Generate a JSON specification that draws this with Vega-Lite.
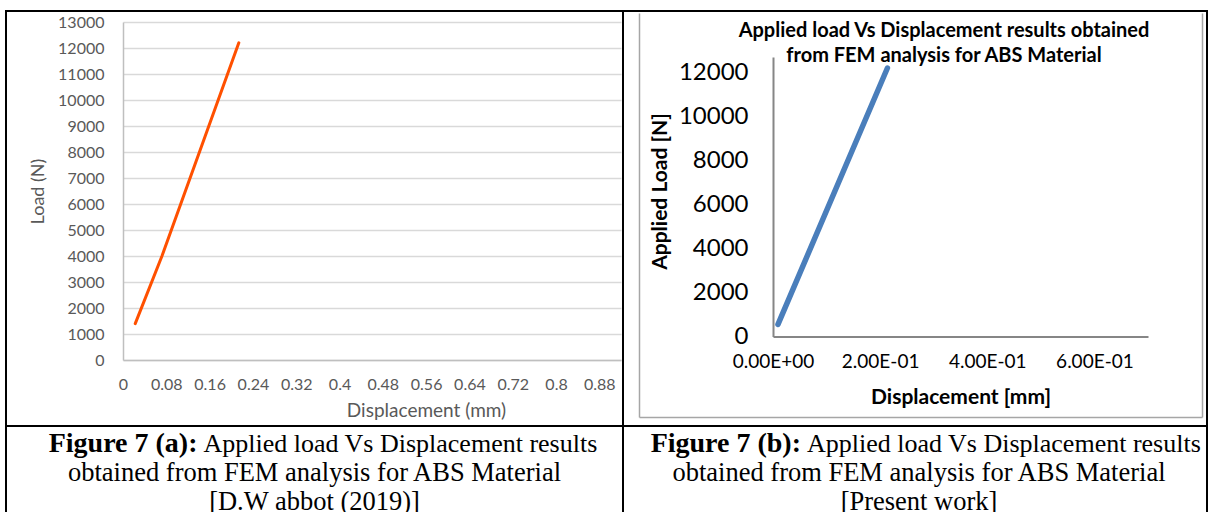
{
  "$schema": "https://vega.github.io/schema/vega-lite/v6.json",
  "background": "white",
  "padding": {"left": 5, "top": 10, "right": 0, "bottom": 0},
  "columns": 2,
  "spacing": {"row": 0, "column": 0},
  "bounds": "flush",
  "config": {
    "font": "Lato",
    "view": {"stroke": null},
    "axis": {"labelFont": "Lato", "titleFont": "Lato", "labelOverlap": false, "labelFlush": false, "labelBound": false},
    "title": {"font": "Lato"}
  },
  "concat": [
    {
      "width": 617,
      "height": 415,
      "view": {"stroke": "black", "strokeWidth": 2},
      "data": {"values": [
        {"disp": 0.0226, "load": 1400},
        {"disp": 0.072, "load": 4000},
        {"disp": 0.214, "load": 12200}
      ]},
      "mark": {"type": "line", "color": "#ff5000", "strokeWidth": 3, "strokeCap": "round"},
      "encoding": {
        "x": {
          "field": "disp", "type": "quantitative",
          "scale": {"domain": [0, 0.92], "range": [117, 615], "nice": false, "zero": false},
          "axis": {
            "orient": "bottom", "offset": -66,
            "values": [0, 0.08, 0.16, 0.24, 0.32, 0.4, 0.48, 0.56, 0.64, 0.72, 0.8, 0.88],
            "format": ".2~f", "grid": false, "ticks": false,
            "domainColor": "#bfbfbf", "domainWidth": 1.5,
            "labelFontSize": 16, "labelColor": "#595959", "labelPadding": 16,
            "title": "Displacement (mm)", "titleFontSize": 19, "titleFontWeight": "normal",
            "titleColor": "#595959", "titlePadding": 9, "titleX": 420
          }
        },
        "y": {
          "field": "load", "type": "quantitative",
          "scale": {"domain": [0, 13000], "range": [349, 11], "nice": false},
          "axis": {
            "orient": "left", "offset": -117,
            "values": [0, 1000, 2000, 3000, 4000, 5000, 6000, 7000, 8000, 9000, 10000, 11000, 12000, 13000],
            "format": "d", "grid": true, "gridColor": "#d9d9d9", "gridWidth": 1.5, "ticks": false,
            "domainColor": "#bfbfbf", "domainWidth": 1.5,
            "labelFontSize": 16, "labelColor": "#595959", "labelPadding": 19,
            "title": "Load (N)", "titleFontSize": 18, "titleFontWeight": "normal",
            "titleColor": "#595959", "titlePadding": 10
          }
        }
      }
    },
    {
      "width": 584,
      "height": 415,
      "view": {"stroke": "black", "strokeWidth": 2},
      "title": {
        "text": ["Applied load Vs Displacement results obtained", "from FEM analysis for ABS Material"],
        "fontSize": 20, "fontWeight": "bold", "color": "black",
        "anchor": "middle", "offset": -55, "dx": 29, "lineHeight": 25
      },
      "layer": [
        {
          "data": {"values": [
            {"disp": 0.0093, "load": 550},
            {"disp": 0.2136, "load": 12200}
          ]},
          "mark": {"type": "line", "color": "#4a7ebb", "strokeWidth": 5.5, "strokeCap": "round"},
          "encoding": {
            "x": {
              "field": "disp", "type": "quantitative",
              "scale": {"domain": [0, 0.7], "range": [150, 525], "nice": false, "zero": false},
              "axis": {
                "orient": "bottom", "offset": -89.5,
                "values": [0, 0.2, 0.4, 0.6],
                "labelExpr": "datum.value == 0 ? '0.00E+00' : format(datum.value * 10, '.2f') + 'E-01'",
                "grid": false, "ticks": false,
                "domainColor": "#868686", "domainWidth": 2,
                "labelFontSize": 19, "labelColor": "black", "labelPadding": 16,
                "title": "Displacement [mm]", "titleFontSize": 21, "titleFontWeight": "bold",
                "titleColor": "black", "titlePadding": 15
              }
            },
            "y": {
              "field": "load", "type": "quantitative",
              "scale": {"domain": [0, 12700], "range": [325.5, 46], "nice": false},
              "axis": {
                "orient": "left", "offset": -150,
                "values": [0, 2000, 4000, 6000, 8000, 10000, 12000],
                "format": "d", "grid": false, "ticks": false,
                "domainColor": "#868686", "domainWidth": 2,
                "labelFontSize": 24, "labelColor": "black", "labelPadding": 25,
                "title": "Applied Load [N]", "titleFontSize": 21, "titleFontWeight": "bold",
                "titleColor": "black", "titlePadding": 8, "titleY": 180
              }
            }
          }
        },
        {
          "mark": {"type": "point", "opacity": 0},
          "encoding": {
            "x": {
              "datum": 0, "type": "quantitative",
              "scale": {"domain": [0, 1], "range": [16, 579]},
              "axis": {"orient": "bottom", "offset": -9, "labels": false, "ticks": false, "grid": false, "title": null, "domainColor": "#a6a6a6", "domainWidth": 1.5}
            },
            "y": {
              "datum": 0, "type": "quantitative",
              "scale": {"domain": [0, 1], "range": [406, 2]},
              "axis": {"orient": "left", "offset": -16, "labels": false, "ticks": false, "grid": false, "title": null, "domainColor": "#a6a6a6", "domainWidth": 1.5}
            }
          }
        },
        {
          "mark": {"type": "point", "opacity": 0},
          "encoding": {
            "y": {
              "datum": 0, "type": "quantitative",
              "scale": {"domain": [0, 1], "range": [406, 2]},
              "axis": {"orient": "right", "offset": -5, "labels": false, "ticks": false, "grid": false, "title": null, "domainColor": "#a6a6a6", "domainWidth": 1.5}
            }
          }
        }
      ],
      "resolve": {
        "scale": {"x": "independent", "y": "independent"},
        "axis": {"x": "independent", "y": "independent"}
      }
    },
    {
      "width": 617,
      "height": 88,
      "view": {"stroke": "black", "strokeWidth": 2},
      "data": {"values": [
        {"line": 1, "part": "lead", "text": "Figure 7 (a):"},
        {"line": 1, "part": "rest", "text": "Applied load Vs Displacement results"},
        {"line": 2, "part": "full", "text": "obtained from FEM analysis for ABS Material"},
        {"line": 3, "part": "full", "text": "[D.W abbot (2019)]"}
      ]},
      "encoding": {
        "y": {"field": "line", "type": "ordinal", "scale": {"type": "point", "padding": 0.5}, "axis": null},
        "text": {"field": "text"}
      },
      "layer": [
        {
          "transform": [{"filter": "datum.part == 'lead'"}],
          "mark": {"type": "text", "font": "Liberation Serif", "fontSize": 28, "fontWeight": "bold", "align": "right", "baseline": "middle", "dx": -117, "dy": 3, "color": "black"}
        },
        {
          "transform": [{"filter": "datum.part == 'rest'"}],
          "mark": {"type": "text", "font": "Liberation Serif", "fontSize": 26, "align": "left", "baseline": "middle", "dx": -111, "dy": 3, "color": "black"}
        },
        {
          "transform": [{"filter": "datum.part == 'full'"}],
          "mark": {"type": "text", "font": "Liberation Serif", "fontSize": 26.5, "align": "center", "baseline": "middle", "dy": 3, "color": "black"}
        }
      ]
    },
    {
      "width": 584,
      "height": 88,
      "view": {"stroke": "black", "strokeWidth": 2},
      "data": {"values": [
        {"line": 1, "part": "lead", "text": "Figure 7 (b):"},
        {"line": 1, "part": "rest", "text": "Applied load Vs Displacement results"},
        {"line": 2, "part": "full", "text": "obtained from FEM analysis for ABS Material"},
        {"line": 3, "part": "full", "text": "[Present work]"}
      ]},
      "encoding": {
        "y": {"field": "line", "type": "ordinal", "scale": {"type": "point", "padding": 0.5}, "axis": null},
        "text": {"field": "text"}
      },
      "layer": [
        {
          "transform": [{"filter": "datum.part == 'lead'"}],
          "mark": {"type": "text", "font": "Liberation Serif", "fontSize": 28, "fontWeight": "bold", "align": "right", "baseline": "middle", "dx": -114, "dy": 3, "color": "black"}
        },
        {
          "transform": [{"filter": "datum.part == 'rest'"}],
          "mark": {"type": "text", "font": "Liberation Serif", "fontSize": 26, "align": "left", "baseline": "middle", "dx": -108, "dy": 3, "color": "black"}
        },
        {
          "transform": [{"filter": "datum.part == 'full'"}],
          "mark": {"type": "text", "font": "Liberation Serif", "fontSize": 26.5, "align": "center", "baseline": "middle", "dx": 4, "dy": 3, "color": "black"}
        }
      ]
    }
  ]
}
